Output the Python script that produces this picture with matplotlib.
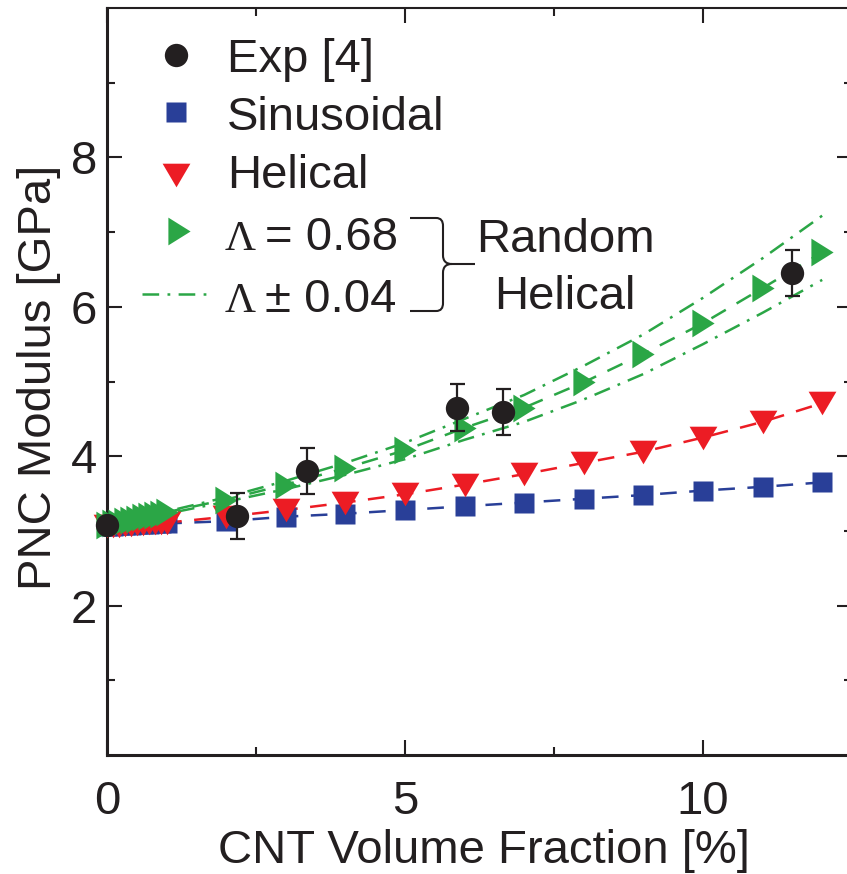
import matplotlib
matplotlib.use("Agg")
import matplotlib.pyplot as plt
from matplotlib.path import Path
from matplotlib.patches import PathPatch
from matplotlib.lines import Line2D
from matplotlib.ticker import FixedLocator

plt.rcParams['font.family'] = ['Liberation Sans', 'DejaVu Sans']
plt.rcParams['lines.scale_dashes'] = False

# ---------------- data ----------------
exp_x = [0.0, 2.18, 3.35, 5.87, 6.64, 11.5]
exp_y = [3.08, 3.20, 3.80, 4.65, 4.59, 6.45]
exp_err = [0.0, 0.31, 0.31, 0.31, 0.31, 0.31]

model_x = [0.0, 0.1, 0.2, 0.3, 0.4, 0.5, 0.6, 0.7, 0.8, 0.9, 1.0,
           2, 3, 4, 5, 6, 7, 8, 9, 10, 11, 12]
sinusoidal_y = [3.07, 3.07, 3.08, 3.08, 3.08, 3.09, 3.09, 3.09, 3.10, 3.10, 3.10,
                3.13, 3.19, 3.23, 3.28, 3.33, 3.38, 3.43, 3.48, 3.54, 3.59, 3.65]
helical_y = [3.06, 3.07, 3.07, 3.08, 3.08, 3.09, 3.09, 3.10, 3.10, 3.11, 3.11,
             3.19, 3.28, 3.38, 3.49, 3.62, 3.76, 3.91, 4.06, 4.25, 4.46, 4.71]
random_y = [3.08, 3.10, 3.11, 3.13, 3.15, 3.16, 3.18, 3.20, 3.21, 3.23, 3.25,
            3.42, 3.62, 3.84, 4.08, 4.38, 4.65, 4.99, 5.37, 5.78, 6.25, 6.73]

band_x = [0, 1, 2, 3, 4, 5, 6, 7, 8, 9, 10, 11, 12]
band_upper = [3.08, 3.26, 3.45, 3.67, 3.91, 4.18, 4.50, 4.82, 5.21, 5.63, 6.12, 6.65, 7.22]
band_lower = [3.08, 3.23, 3.39, 3.56, 3.75, 3.96, 4.22, 4.46, 4.76, 5.10, 5.50, 5.92, 6.36]

x_major = [0, 5, 10]
x_minor = [2.5, 7.5]
y_major = [2, 4, 6, 8]
y_minor = [1, 3, 5, 7, 9]

# ---------------- style ----------------
BLK = '#231f20'
BLUE = '#293f98'
RED = '#ec1c24'
GREEN = '#2ba646'
FS = 34

W, H = 847, 874
fig = plt.figure(figsize=(W / 100, H / 100), dpi=100)
ax = fig.add_axes([107 / W, 1 - 755 / H, (852 - 107) / W, (755 - 8) / H])


def P(x, y):
    return (x / W, 1 - y / H)


tri_right = Path([(-0.8, -1), (0.8, 0), (-0.8, 1), (-0.8, -1)],
                 [Path.MOVETO, Path.LINETO, Path.LINETO, Path.CLOSEPOLY])
tri_down = Path([(-1, 0.85), (1, 0.85), (0, -0.85), (-1, 0.85)],
                [Path.MOVETO, Path.LINETO, Path.LINETO, Path.CLOSEPOLY])

DASH = (12, 9)
DASHDOT = (12, 6, 2, 6)
LW = 1.8
MS_TRI = 20.0
MS_SQ = 14.0
MS_O = 16.8

# fit lines
ax.plot(model_x, sinusoidal_y, color=BLUE, lw=LW, dashes=DASH, zorder=2)
ax.plot(model_x, helical_y, color=RED, lw=LW, dashes=DASH, zorder=2)
ax.plot(model_x, random_y, color=GREEN, lw=LW, dashes=DASH, zorder=2)
ax.plot(band_x, band_upper, color=GREEN, lw=LW, dashes=DASHDOT, zorder=2)
ax.plot(band_x, band_lower, color=GREEN, lw=LW, dashes=DASHDOT, zorder=2)

# markers
ax.plot(model_x, sinusoidal_y, ls='none', marker='s', ms=MS_SQ, mfc=BLUE, mec='none',
        zorder=3, clip_on=False)
ax.plot(model_x, helical_y, ls='none', marker=tri_down, ms=MS_TRI, mfc=RED, mec='none',
        zorder=4, clip_on=False)
ax.plot(model_x, random_y, ls='none', marker=tri_right, ms=MS_TRI, mfc=GREEN, mec='none',
        zorder=5, clip_on=False)
ax.errorbar(exp_x, exp_y, yerr=exp_err, fmt='o', ms=MS_O, color=BLK, mec='none',
            elinewidth=1.6, capsize=5.4, capthick=1.6, zorder=6, clip_on=False)

ax.set_xlim(0, 12.5)
ax.set_ylim(0, 10)
ax.xaxis.set_major_locator(FixedLocator(x_major))
ax.xaxis.set_minor_locator(FixedLocator(x_minor))
ax.yaxis.set_major_locator(FixedLocator(y_major))
ax.yaxis.set_minor_locator(FixedLocator(y_minor))
ax.set_xticklabels([str(v) for v in x_major])
ax.set_yticklabels([str(v) for v in y_major])

ax.tick_params(which='both', direction='in', top=True, right=True, color=BLK,
               labelcolor=BLK, labelsize=FS)
ax.tick_params(which='major', length=10.8, width=1.5)
ax.tick_params(which='minor', length=5.8, width=1.5)
ax.tick_params(axis='x', pad=18)
ax.tick_params(axis='y', pad=7)

for s in ['left', 'bottom', 'right']:
    ax.spines[s].set_linewidth(2.2)
ax.spines['top'].set_linewidth(1.5)
for s in ax.spines.values():
    s.set_color(BLK)

# axis labels
fig.text(*P(484, 863), 'CNT Volume Fraction [%]', ha='center', va='baseline',
         fontsize=FS, color=BLK)
fig.text(*P(39, 377), 'PNC Modulus [GPa]', ha='center', va='center',
         rotation=90, fontsize=FS, color=BLK)

# legend (manual)
fig.add_artist(Line2D([176 / W], [1 - 55 / H], marker='o', ms=MS_O, color=BLK,
                      mec='none', ls='none', transform=fig.transFigure))
fig.add_artist(Line2D([176 / W], [1 - 112 / H], marker='s', ms=MS_SQ, color=BLUE,
                      mec='none', ls='none', transform=fig.transFigure))
fig.add_artist(Line2D([176 / W], [1 - 175 / H], marker=tri_down, ms=MS_TRI, color=RED,
                      mec='none', ls='none', transform=fig.transFigure))
fig.add_artist(Line2D([179 / W], [1 - 231 / H], marker=tri_right, ms=MS_TRI, color=GREEN,
                      mec='none', ls='none', transform=fig.transFigure))
fig.add_artist(Line2D([142 / W, 210 / W], [1 - 294 / H, 1 - 294 / H], color=GREEN,
                      lw=LW, dashes=DASHDOT, transform=fig.transFigure))

fig.text(*P(227, 72), 'Exp [4]', ha='left', va='baseline', fontsize=FS, color=BLK)
fig.text(*P(227, 130), 'Sinusoidal', ha='left', va='baseline', fontsize=FS, color=BLK)
fig.text(*P(227, 188), 'Helical', ha='left', va='baseline', fontsize=FS, color=BLK)
fig.text(*P(225, 250), '\u039b', ha='left', va='baseline', fontsize=31,
         family=['Liberation Serif', 'DejaVu Serif'], color=BLK)
fig.text(*P(265, 250), '= 0.68', ha='left', va='baseline', fontsize=FS, color=BLK)
fig.text(*P(225, 312), '\u039b', ha='left', va='baseline', fontsize=31,
         family=['Liberation Serif', 'DejaVu Serif'], color=BLK)
fig.text(*P(265, 312), '\u00b1 0.04', ha='left', va='baseline', fontsize=FS, color=BLK)

fig.text(*P(565, 252), 'Random', ha='center', va='baseline', fontsize=FS, color=BLK)
fig.text(*P(565, 309), 'Helical', ha='center', va='baseline', fontsize=FS, color=BLK)

# brace
bverts_px = [(410, 218), (436, 218), (441, 218), (443, 221), (443, 226), (443, 255),
             (443, 261), (446, 264), (452, 264), (475, 264),
             (452, 264), (446, 264), (443, 267), (443, 273), (443, 303),
             (443, 308), (441, 311), (436, 311), (410, 311)]
codes = [Path.MOVETO, Path.LINETO, Path.CURVE4, Path.CURVE4, Path.CURVE4, Path.LINETO,
         Path.CURVE4, Path.CURVE4, Path.CURVE4, Path.LINETO,
         Path.MOVETO, Path.CURVE4, Path.CURVE4, Path.CURVE4, Path.LINETO,
         Path.CURVE4, Path.CURVE4, Path.CURVE4, Path.LINETO]
bverts = [P(x, y) for x, y in bverts_px]
fig.add_artist(PathPatch(Path(bverts, codes), fill=False, lw=1.5, ec=BLK,
                         transform=fig.transFigure))

fig.savefig('out.png', dpi=100)
